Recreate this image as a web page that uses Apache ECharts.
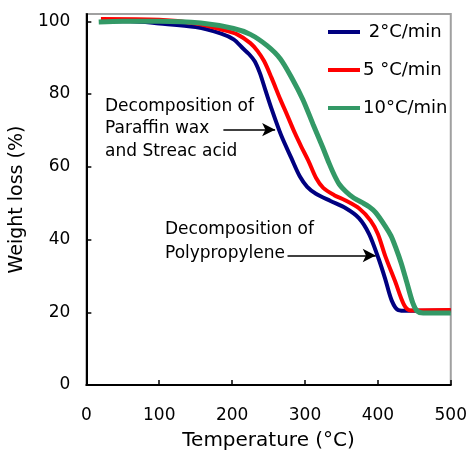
<!DOCTYPE html>
<html>
<head>
<meta charset="utf-8">
<script src="https://cdn.jsdelivr.net/npm/echarts@6/dist/echarts.min.js"></script>
<style>
html,body{margin:0;padding:0;background:#fff;}
#chart{width:470px;height:456px;}
</style>
</head>
<body>
<div id="chart"></div>
<script>
// Series names (legend)
var seriesNames = [' 2°C/min', '5 °C/min', '10°C/min'];
var seriesColors = ['#000080', '#ff0000', '#339966'];

// [temperature °C, weight %]
var rate2 = [[20,100],[60,100],[100,99.4],[150,98.4],[185,96.6],[202,95],[215,92.5],[223,91],[231,89],[238,85.8],[245,81.5],[254,76],[267,68.8],[281,62.5],[293,57.3],[303,54.5],[315,52.6],[335,50.6],[356,48.6],[374,45.9],[388,41.5],[401,34.7],[410,29.2],[419,23.2],[428,20.6],[440,20.4],[500,20.5]];
var rate5 = [[20,100.6],[100,100.4],[150,99.4],[190,97.5],[207,96.4],[225,94],[235,91.8],[244,89],[254,84.5],[266,78.6],[276,74],[286,69.3],[295,65.5],[305,61.5],[315,57],[325,54.2],[340,52.2],[355,50.8],[374,48.6],[390,45.2],[400,41.5],[410,35.5],[424,28.3],[436,22],[445,20.5],[500,20.6]];
var rate10 = [[17,99.8],[50,100],[100,100],[157,99.5],[202,98],[225,96.4],[248,93.3],[266,89.7],[283,84],[297,78.5],[311,71.7],[324,65.5],[333,61],[340,57.8],[347,55.2],[356,53.2],[367,51.4],[378,50.2],[388,49],[397,47.4],[410,43.7],[418,41],[425,37.5],[432,33.5],[440,28],[448,22.5],[454,20.3],[462,19.8],[500,19.8]];

// Annotation arrows: [startT, endT, weight]
var arrow1 = [188, 259, 70.2];
var arrow2 = [276, 397, 35.6];
var annot1 = 'Decomposition of\nParaffin wax\nand Streac acid';
var annot2 = 'Decomposition of\nPolypropylene';

var xTicks = {min: 0, max: 500, interval: 100};
var yTicks = {min: 0, max: 102, interval: 20};

var FONT = 'DejaVu Sans';
var chart = echarts.init(document.getElementById('chart'));

function mkSeries(i, data, width) {
  return {
    name: seriesNames[i], type: 'line', data: data, showSymbol: false,
    smooth: 0.3,
    lineStyle: {color: seriesColors[i], width: width},
    itemStyle: {color: seriesColors[i]},
    z: 2 + i, silent: true, animation: false
  };
}
var s1 = mkSeries(0, rate2, 4);
var s2 = mkSeries(1, rate5, 4);
var s3 = mkSeries(2, rate10, 5);
s3.markLine = {
  silent: true, animation: false,
  symbol: ['none', 'arrow'], symbolSize: [10, 13],
  lineStyle: {color: '#000', width: 1.5, type: 'solid'},
  label: {show: false},
  data: [
    [{coord: [arrow1[0], arrow1[2]]}, {coord: [arrow1[1], arrow1[2]]}],
    [{coord: [arrow2[0], arrow2[2]]}, {coord: [arrow2[1], arrow2[2]]}]
  ]
};

chart.setOption({
  animation: false,
  grid: {left: 84, right: 17, top: 14, bottom: 70, show: true, borderColor: '#a0a0a0', borderWidth: 2, backgroundColor: 'transparent'},
  legend: {
    orient: 'vertical', left: 328, top: 22, padding: 0, itemGap: 18,
    itemWidth: 32, itemHeight: 4, icon: 'rect',
    textStyle: {fontFamily: FONT, fontSize: 18, color: '#000', lineHeight: 20, padding: [0,0,0,-2]},
    data: seriesNames
  },
  xAxis: {
    type: 'value', min: xTicks.min, max: xTicks.max, interval: xTicks.interval,
    name: 'Temperature (°C)', nameLocation: 'middle', nameGap: 46,
    nameTextStyle: {fontFamily: FONT, fontSize: 20, color: '#000'},
    axisLine: {show: true, onZero: false, lineStyle: {color: '#000', width: 2}},
    axisTick: {show: true, inside: true, length: 5, lineStyle: {color: '#000', width: 1.5}},
    axisLabel: {fontFamily: FONT, fontSize: 17, color: '#000', margin: 22},
    splitLine: {show: false}
  },
  yAxis: {
    type: 'value', min: yTicks.min, max: yTicks.max, interval: yTicks.interval,
    name: 'Weight loss (%)', nameLocation: 'middle', nameGap: 50,
    nameTextStyle: {fontFamily: FONT, fontSize: 19, color: '#000'},
    axisLine: {show: true, onZero: false, lineStyle: {color: '#000', width: 2}},
    axisTick: {show: true, inside: true, length: 5, lineStyle: {color: '#000', width: 1.5}},
    axisLabel: {fontFamily: FONT, fontSize: 17, color: '#000', margin: 16, showMaxLabel: false},
    splitLine: {show: false}
  },
  graphic: [
    {type: 'text', left: 105, top: 95, silent: true, style: {text: annot1, font: '17px "DejaVu Sans"', fill: '#000', lineHeight: 22.7}},
    {type: 'text', left: 165, top: 218, silent: true, style: {text: annot2, font: '17px "DejaVu Sans"', fill: '#000', lineHeight: 24}}
  ],
  series: [s1, s2, s3]
});
</script>
</body>
</html>
